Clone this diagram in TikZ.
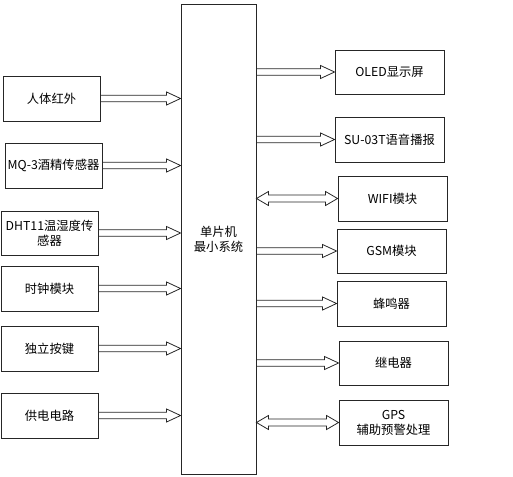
\documentclass[tikz,border=0pt]{standalone}
\usepackage{fontspec}
\setmainfont{Noto Sans CJK SC}
\usetikzlibrary{calc}
\tikzset{
  box/.style={draw=black!85, line width=0.9pt, minimum height=45pt, align=center, inner sep=1pt, font=\fontsize{12.3pt}{15pt}\selectfont},
  lbox/.style={box, minimum width=97pt},
  rbox/.style={box, minimum width=109pt},
  hollow/.style={draw=black!85, line width=0.8pt, to path={let \p1=(\tikztostart), \p2=(\tikztotarget) in
    (\x1,\y1+3.2pt) -- (\x2-14pt,\y1+3.2pt) -- (\x2-14pt,\y1+6.5pt) -- (\x2,\y1) -- (\x2-14pt,\y1-6.5pt) -- (\x2-14pt,\y1-3.2pt) -- (\x1,\y1-3.2pt)}},
  dhollow/.style={draw=black!85, line width=0.8pt, to path={let \p1=(\tikztostart), \p2=(\tikztotarget) in
    (\x1,\y1) -- (\x1+12pt,\y1+7pt) -- (\x1+12pt,\y1+3.5pt) -- (\x2-12pt,\y1+3.5pt) -- (\x2-12pt,\y1+7pt) -- (\x2,\y1) -- (\x2-12pt,\y1-7pt) -- (\x2-12pt,\y1-3.5pt) -- (\x1+12pt,\y1-3.5pt) -- (\x1+12pt,\y1-7pt) -- cycle}}
}
\begin{document}
\begin{tikzpicture}[x=1pt,y=-1pt]
\useasboundingbox (0,0) rectangle (513,476);
% central
\node[box, minimum width=75pt, minimum height=470pt] (mcu) at (218.5,239) {单片机\\最小系统};
% left
\node[lbox] (l1) at (51.5,98.5) {人体红外};
\node[lbox] (l2) at (53.5,165.5) {MQ-3酒精传感器};
\node[lbox, minimum height=44pt] (l3) at (49.5,233) {DHT11温湿度传\\感器};
\node[lbox] (l4) at (49.5,288.5) {时钟模块};
\node[lbox] (l5) at (49.5,348.5) {独立按键};
\node[lbox] (l6) at (49.5,415.5) {供电电路};
% right
\node[rbox, minimum height=44pt] (r1) at (389.5,72) {OLED显示屏};
\node[rbox] (r2) at (389.5,139.5) {SU-03T语音播报};
\node[rbox] (r3) at (392.5,198.5) {WIFI模块};
\node[rbox, minimum height=44pt] (r4) at (391.5,251) {GSM模块};
\node[rbox] (r5) at (391.5,303.5) {蜂鸣器};
\node[rbox, minimum height=44pt] (r6) at (393.5,363) {继电器};
\node[rbox] (r7) at (393.5,422.5) {GPS\\辅助预警处理};
% arrows left
\foreach \k in {l1,l2,l3,l4,l5,l6}{
  \coordinate (t\k) at (\k.east -| mcu.west);
  \draw[hollow] (\k.east) to (t\k);
}
% arrows right
\foreach \k in {r1,r2,r4,r5,r6}{
  \coordinate (s\k) at (\k.west -| mcu.east);
  \draw[hollow] (s\k) to (\k.west);
}
\foreach \k in {r3,r7}{
  \coordinate (s\k) at (\k.west -| mcu.east);
  \draw[dhollow] (s\k) to (\k.west);
}
\end{tikzpicture}
\end{document}
